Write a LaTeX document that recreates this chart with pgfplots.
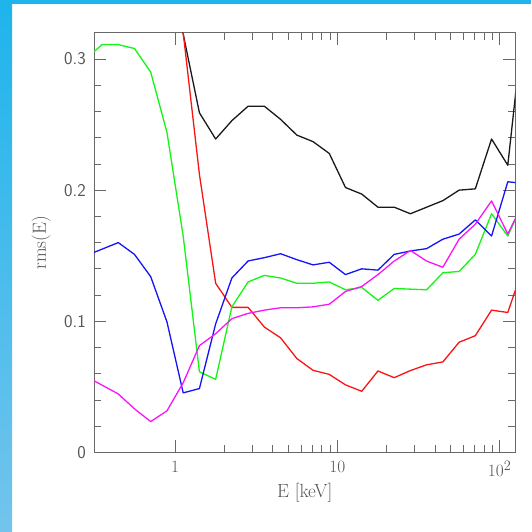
\documentclass[border=0pt]{standalone}
\usepackage{pgfplots}
\usepackage{pgfplotstable}
\pgfplotsset{compat=1.18}
\definecolor{axgray}{RGB}{105,105,105}
\definecolor{txtgray}{RGB}{85,85,85}
\definecolor{bluetop}{RGB}{30,180,236}
\definecolor{bluebot}{RGB}{115,196,236}
\definecolor{mygreen}{RGB}{20,245,20}
\definecolor{myblue}{RGB}{20,20,245}
\definecolor{mymag}{RGB}{250,20,250}
\definecolor{myred}{RGB}{250,20,20}
\definecolor{myblack}{RGB}{25,25,25}
\pgfplotstableread{
E black red green blue magenta
0.2818 nan nan 0.300 0.150 0.058
0.3548 nan nan 0.311 0.155 0.0513
0.4467 nan nan 0.311 0.160 0.0446
0.5623 nan nan 0.308 0.151 0.0332
0.7079 nan nan 0.290 0.134 0.0235
0.8913 0.45 0.45 0.244 0.0995 0.0317
1.1220 0.319 0.320 0.165 0.0454 0.0531
1.4125 0.259 0.212 0.0615 0.0487 0.0814
1.7783 0.239 0.129 0.0557 0.098 0.0905
2.2387 0.253 0.1106 0.111 0.133 0.102
2.8184 0.264 0.1106 0.130 0.146 0.106
3.5481 0.264 0.0956 0.135 0.1485 0.1085
4.4668 0.254 0.0874 0.133 0.1515 0.1103
5.6234 0.242 0.0716 0.129 0.147 0.1103
7.0795 0.237 0.0626 0.129 0.143 0.111
8.9125 0.228 0.0595 0.130 0.145 0.113
11.220 0.202 0.0515 0.124 0.1356 0.1227
14.125 0.197 0.0466 0.1258 0.140 0.1265
17.783 0.187 0.0621 0.116 0.139 0.1356
22.387 0.187 0.057 0.125 0.151 0.1459
28.184 0.182 0.0624 0.1245 0.1536 0.154
35.481 0.187 0.0668 0.124 0.1554 0.1459
44.668 0.192 0.069 0.137 0.1626 0.1412
56.234 0.200 0.084 0.138 0.1665 0.1626
70.795 0.201 0.089 0.151 0.1773 0.174
89.125 0.239 0.1085 0.182 0.165 0.1918
112.20 0.219 0.1067 0.165 0.2064 0.1665
141.25 0.332 0.143 0.192 0.205 0.192
}\rmsdata
\begin{document}
\begin{tikzpicture}[x=1pt,y=1pt]
\useasboundingbox (0,0) rectangle (531,532);
\fill[white] (0,0) rectangle (531,532);
\shade[top color=bluetop, bottom color=bluebot] (0,0) rectangle (12,532);
\fill[bluetop] (0,528) rectangle (531,532);
\begin{axis}[
  at={(94.1pt,79.6pt)}, anchor=south west,
  scale only axis, width=421.3pt, height=419.6pt,
  xmode=log, xmin=0.317, xmax=125,
  ymin=0, ymax=0.32,
  xtick={1,10,100}, xticklabels={$1$,$10$,$10^2$},
  ytick={0,0.1,0.2,0.3},
  yticklabels={0,0.1,0.2,0.3},
  minor y tick num=4,
  tick align=inside,
  major tick length=12pt, minor tick length=7pt,
  axis line style={axgray, line width=0.9pt},
  every tick/.style={axgray, line width=0.8pt},
  xticklabel style={txtgray, font=\fontsize{19}{22}\selectfont, yshift=-5pt},
  yticklabel style={txtgray, font=\fontsize{18}{21}\selectfont\sffamily, xshift=-4.8pt},
  label style={txtgray, font=\fontsize{19}{22}\selectfont},
  xlabel={E [keV]},
  ylabel={rms(E)},
  xlabel style={at={(axis description cs:0.5,0)}, anchor=center, yshift=-40.3pt},
  ylabel style={at={(axis description cs:0,0.5)}, anchor=center, yshift=53pt},
  clip=true,
  every axis plot/.append style={line width=1.3pt, line join=round},
]
\addplot[myblack] table[x=E, y=black] {\rmsdata};
\addplot[myred] table[x=E, y=red] {\rmsdata};
\addplot[mygreen] table[x=E, y=green] {\rmsdata};
\addplot[myblue] table[x=E, y=blue] {\rmsdata};
\addplot[mymag] table[x=E, y=magenta] {\rmsdata};
\end{axis}
\end{tikzpicture}
\end{document}
